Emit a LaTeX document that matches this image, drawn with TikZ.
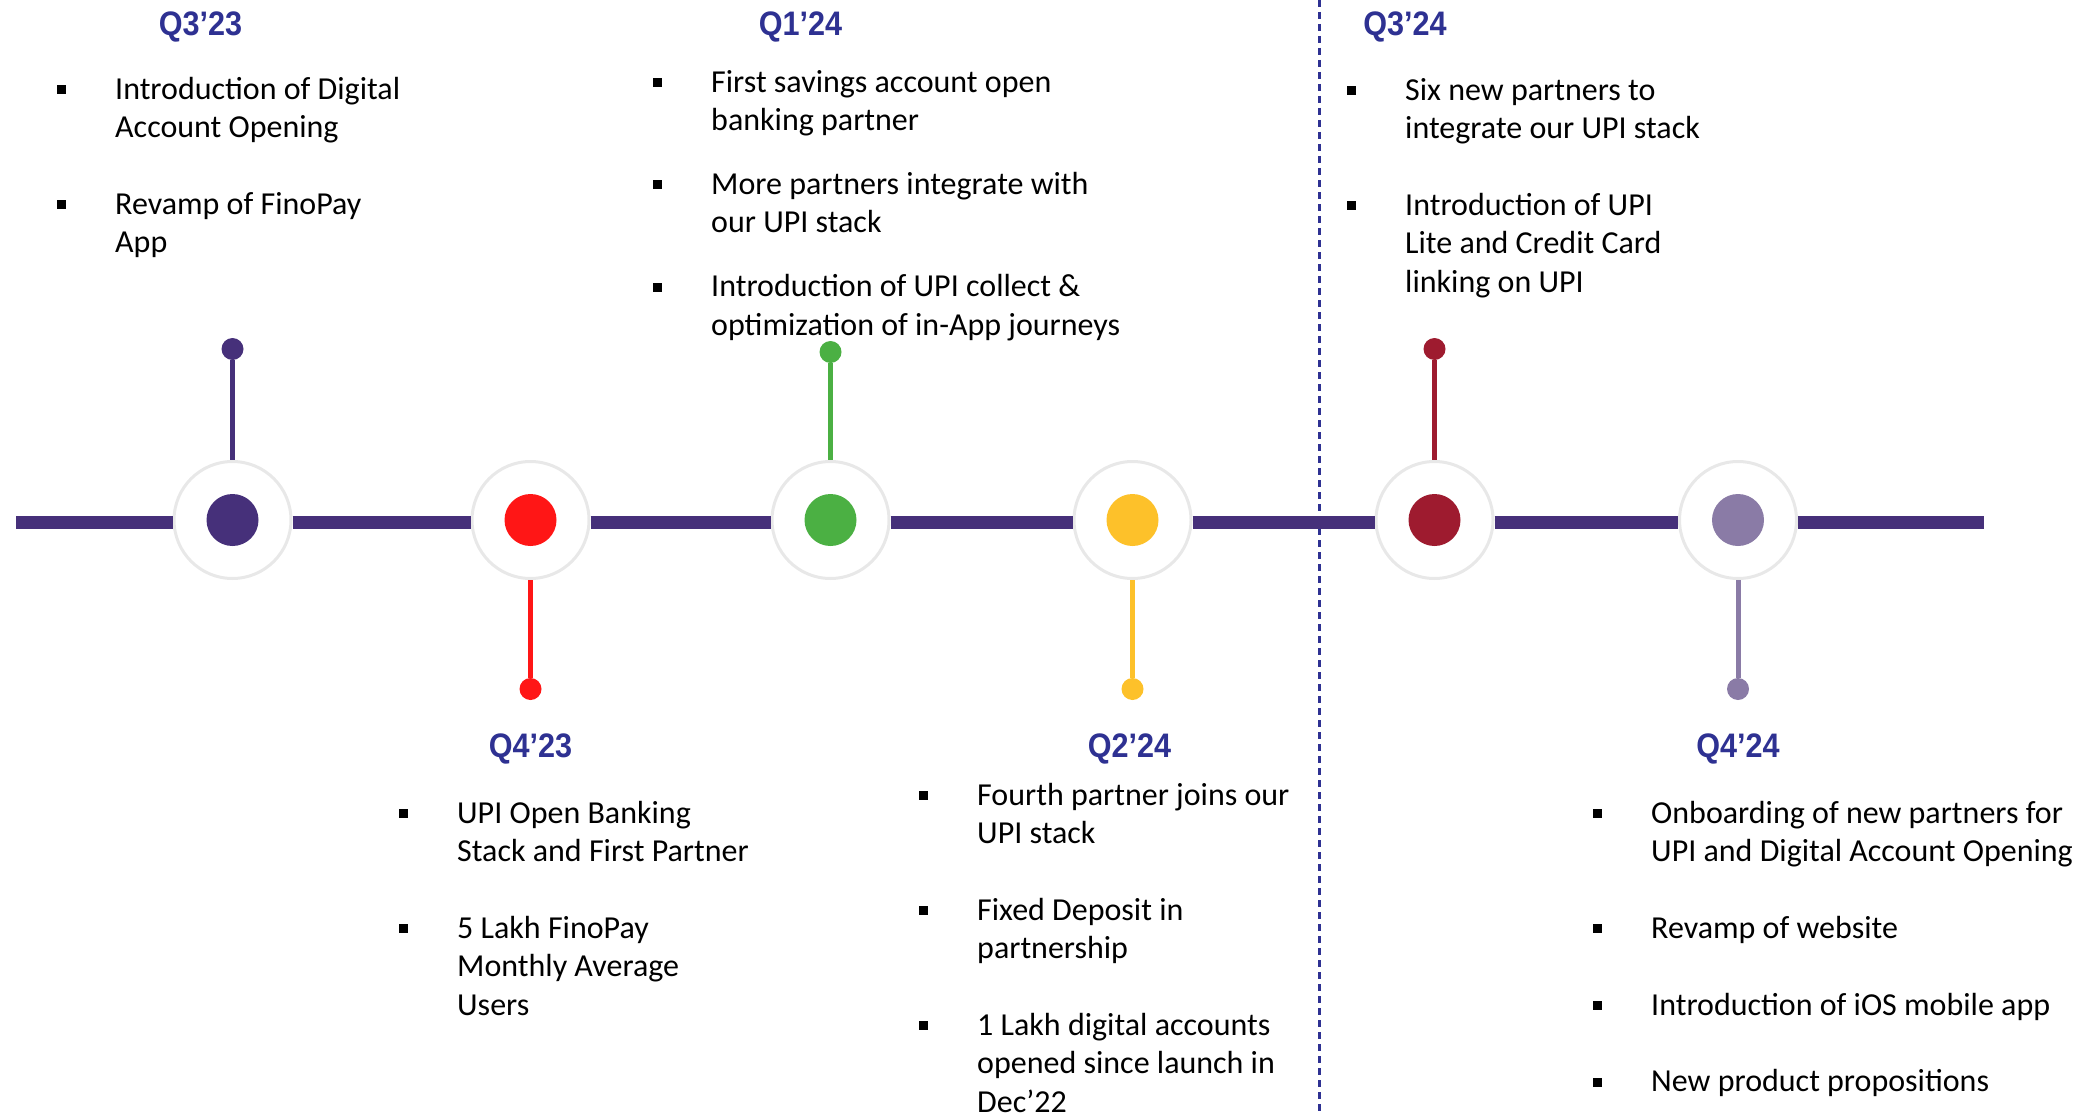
\documentclass[tikz,border=0pt]{standalone}
\usepackage{fontspec}
\setmainfont{Carlito}
\newfontfamily\labelfont[FakeStretch=0.9]{Liberation Sans}

\definecolor{lineviolet}{HTML}{46307A}
\definecolor{qnavy}{HTML}{2E3192}
\definecolor{qred}{HTML}{FF1616}
\definecolor{qgreen}{HTML}{4BB043}
\definecolor{qyellow}{HTML}{FDC12A}
\definecolor{qmaroon}{HTML}{9E1B2F}
\definecolor{qlavender}{HTML}{8A7BA6}

% square bullet hanging left of the item text
\newcommand{\sq}{\leavevmode\strut\llap{\rule[5pt]{9pt}{9pt}\hspace{49pt}}}

\begin{document}
\begin{tikzpicture}[x=1pt, y=-1pt,
    halo/.style={circle, fill=white, draw=black!9, line width=3pt, minimum size=117pt, inner sep=0pt},
    bigdot/.style={circle, fill=#1, minimum size=52pt, inner sep=0pt},
    smalldot/.style={circle, fill=#1, minimum size=22pt, inner sep=0pt},
    stemline/.style={draw=#1, line width=5pt},
    mainline/.style={draw=lineviolet, line width=13pt},
    quarter/.style={font=\labelfont\bfseries\fontsize{34}{34}\selectfont, text=qnavy, inner sep=0pt},
    items/.style={font=\fontsize{32}{38.4}\selectfont, align=left, anchor=north west, inner sep=0pt}]
            \useasboundingbox (0,0) rectangle (2096,1113);

            % Dashed divider
            \coordinate (dtop) at (1319.5,0);
            \coordinate (dbot) at (1319.5,1113);
            \draw[qnavy, line width=2.5pt, dash pattern=on 7pt off 5pt] (dtop) -- (dbot);

            % Halo nodes
            \node[halo] (h1) at (232.5,520) {};
            \node[halo] (h2) at (530.5,520) {};
            \node[halo] (h3) at (830.5,520) {};
            \node[halo] (h4) at (1132.5,520) {};
            \node[halo] (h5) at (1434.5,520) {};
            \node[halo] (h6) at (1738,520) {};

            % Main line
            \coordinate (lstart) at (16,522);
            \coordinate (lend) at (1983.5,522);
            \draw[mainline] (lstart) -- (h1.west |- lstart);
            \draw[mainline] (h1.east |- lstart) -- (h2.west |- lstart);
            \draw[mainline] (h2.east |- lstart) -- (h3.west |- lstart);
            \draw[mainline] (h3.east |- lstart) -- (h4.west |- lstart);
            \draw[mainline] (h4.east |- lstart) -- (h5.west |- lstart);
            \draw[mainline] (h5.east |- lstart) -- (h6.west |- lstart);
            \draw[mainline] (h6.east |- lstart) -- (lend);

            % Inner dots
            \node[bigdot=lineviolet] (d1) at (h1) {};
            \node[bigdot=qred] (d2) at (h2) {};
            \node[bigdot=qgreen] (d3) at (h3) {};
            \node[bigdot=qyellow] (d4) at (h4) {};
            \node[bigdot=qmaroon] (d5) at (h5) {};
            \node[bigdot=qlavender] (d6) at (h6) {};

            % Stems and end dots
            \node[smalldot=lineviolet] (p1) at (232.5,349) {};
            \draw[stemline=lineviolet] (p1) -- (h1);
            \node[smalldot=qred] (p2) at (530.5,689) {};
            \draw[stemline=qred] (p2) -- (h2);
            \node[smalldot=qgreen] (p3) at (830.5,352) {};
            \draw[stemline=qgreen] (p3) -- (h3);
            \node[smalldot=qyellow] (p4) at (1132.5,689) {};
            \draw[stemline=qyellow] (p4) -- (h4);
            \node[smalldot=qmaroon] (p5) at (1434.5,349) {};
            \draw[stemline=qmaroon] (p5) -- (h5);
            \node[smalldot=qlavender] (p6) at (1738,689) {};
            \draw[stemline=qlavender] (p6) -- (h6);

            % Quarter labels
            \node[quarter] (q1) at (200.5,27) {Q3’23};
            \node[quarter] (q2) at (530.5,749) {Q4’23};
            \node[quarter] (q3) at (800.5,27) {Q1’24};
            \node[quarter] (q4) at (1129.5,749) {Q2’24};
            \node[quarter] (q5) at (1405,27) {Q3’24};
            \node[quarter] (q6) at (1738,749) {Q4’24};

            % Item lists
            \node[items] (t1) at (115,72) {\sq Introduction of Digital\\Account Opening\\[38.4pt]\sq Revamp of FinoPay\\App};
            \node[items] (t2) at (457,796) {\sq UPI Open Banking\\Stack and First Partner\\[38.4pt]\sq 5 Lakh FinoPay\\Monthly Average\\Users};
            \node[items] (t3) at (711,65) {\sq First savings account open\\banking partner\\[25.6pt]\sq More partners integrate with\\our UPI stack\\[25.6pt]\sq Introduction of UPI collect \&\\optimization of in-App journeys};
            \node[items] (t4) at (977,778) {\sq Fourth partner joins our\\UPI stack\\[38.4pt]\sq Fixed Deposit in\\partnership\\[38.4pt]\sq 1 Lakh digital accounts\\opened since launch in\\Dec’22};
            \node[items] (t5) at (1405,73) {\sq Six new partners to\\integrate our UPI stack\\[38.4pt]\sq Introduction of UPI\\Lite and Credit Card\\linking on UPI};
            \node[items] (t6) at (1651,796) {\sq Onboarding of new partners for\\UPI and Digital Account Opening\\[38.4pt]\sq Revamp of website\\[38.4pt]\sq Introduction of iOS mobile app\\[38.4pt]\sq New product propositions};
        \end{tikzpicture}
\end{document}
